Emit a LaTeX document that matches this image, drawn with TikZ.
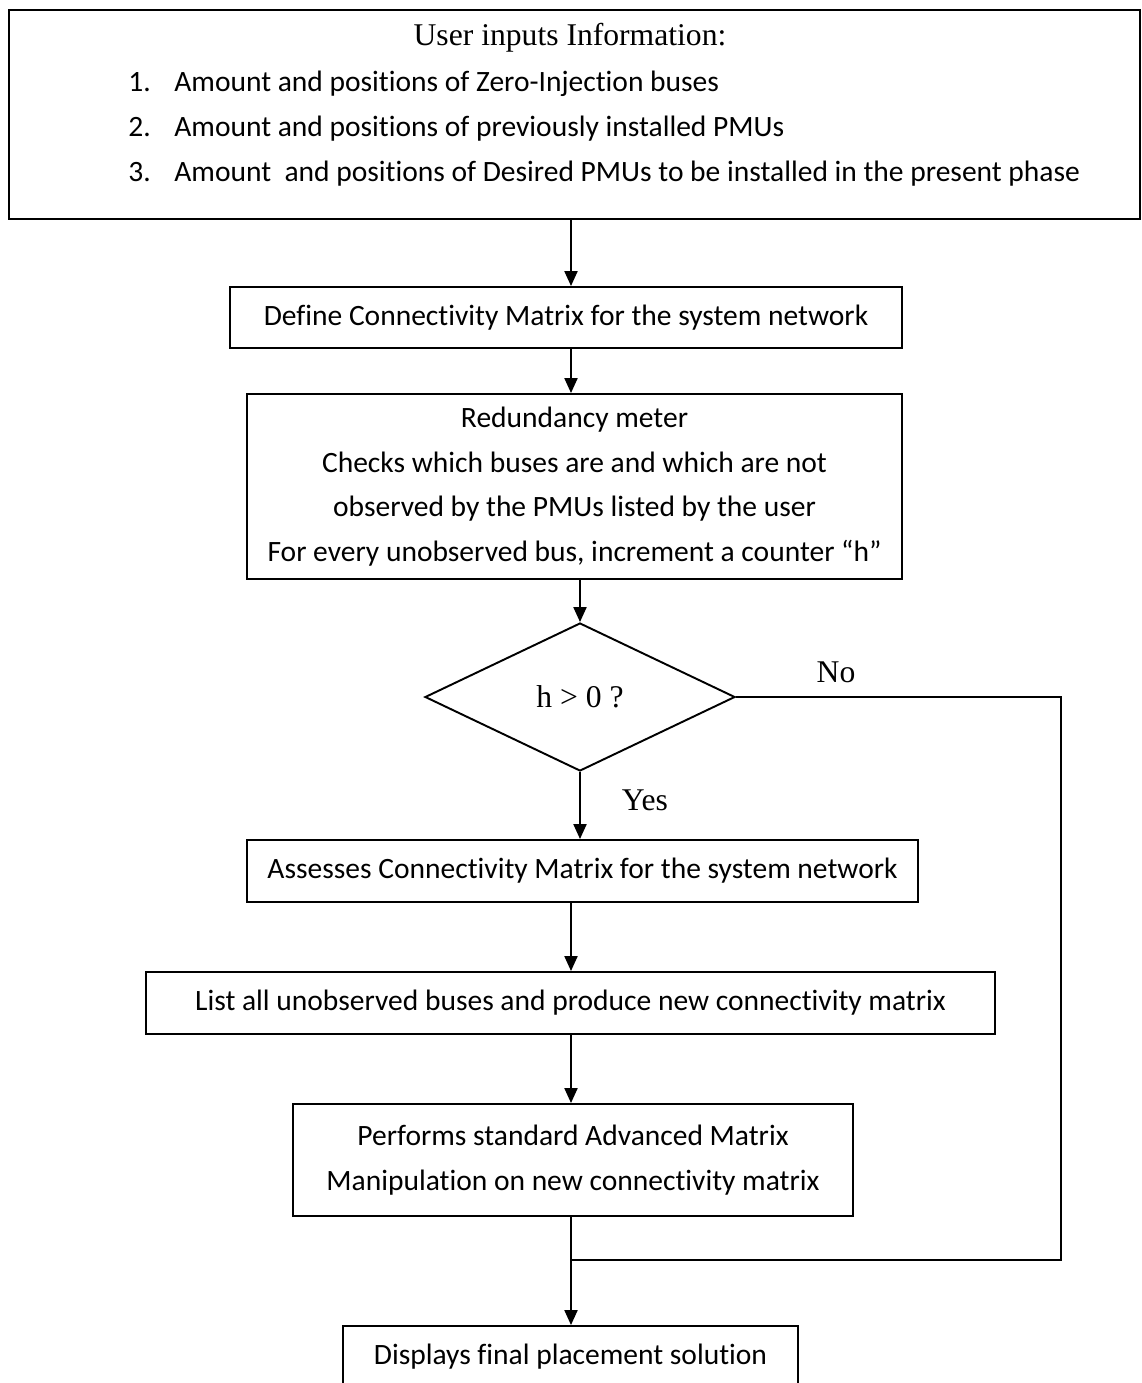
\documentclass[tikz,border=0pt]{standalone}
\usepackage{fontspec}
\setmainfont{Carlito}[Ligatures=CommonOff]
\newfontfamily\camfont{Liberation Serif}
\usetikzlibrary{shapes.geometric,arrows.meta}
\newlength{\unitpx}
\setlength{\unitpx}{0.02cm}

\begin{document}
\begin{tikzpicture}[x=0.02cm, y=-0.02cm,
	box/.style={draw, line width=1.1pt, inner sep=0pt, align=center,
		font=\fontsize{16.8pt}{25.3pt}\selectfont},
	decision/.style={draw, diamond, line width=1.1pt, inner sep=0pt,
		font=\camfont\fontsize{18pt}{20pt}\selectfont},
	lbl/.style={font=\camfont\fontsize{18pt}{20pt}\selectfont},
	itemtext/.style={anchor=base west, inner sep=0pt, font=\fontsize{16.8pt}{20pt}\selectfont},
	flow/.style={line width=1.1pt, -{Triangle[length=8.5pt, width=7.4pt]}},
	loopline/.style={line width=1.1pt}]

		\clip (0,0) rectangle (1142,1383);

		\coordinate (spine) at (571,0);
		\coordinate (loopx) at (1061,0);
		\coordinate (join) at (571,1260);

		\node[box, minimum width=1131\unitpx, minimum height=209\unitpx] (inputs) at (574.5,114.5) {};
		\node[lbl] (title) at (570,38) {User inputs Information:};
		\foreach \txt [count=\i] in {Amount and positions of Zero-Injection buses,
				Amount and positions of previously installed PMUs,
				Amount\ \ and positions of Desired PMUs to be installed in the present phase} {
			\node[itemtext] (num\i) at (128,46+45*\i) {\i.};
			\node[itemtext] (item\i) at (174,46+45*\i) {\txt};
		}

		\node[box, minimum width=672\unitpx, minimum height=61\unitpx] (define) at (566,317.5)
			{Define Connectivity Matrix for the system network};
		\node[box, minimum width=655\unitpx, minimum height=185\unitpx] (redund) at (574.5,486.5)
			{Redundancy meter\\Checks which buses are and which are not\\observed by the PMUs listed by the user\\For every unobserved bus, increment a counter “h”};
		\node[decision, minimum width=310\unitpx, minimum height=148\unitpx] (check) at (580,697) {h > 0 ?};
		\node[box, minimum width=671\unitpx, minimum height=62\unitpx] (assess) at (582.5,871)
			{Assesses Connectivity Matrix for the system network};
		\node[box, minimum width=849\unitpx, minimum height=62\unitpx] (listbus) at (570.5,1003)
			{List all unobserved buses and produce new connectivity matrix};
		\node[box, minimum width=560\unitpx, minimum height=112\unitpx] (perform) at (573,1160)
			{Performs standard Advanced Matrix\\Manipulation on new connectivity matrix};
		\node[box, minimum width=455\unitpx, minimum height=62\unitpx] (display) at (570.5,1357)
			{Displays final placement solution};

		\node[lbl] (no) at (836,672) {No};
		\node[lbl] (yes) at (645,800) {Yes};

		\draw[flow] (inputs.south -| spine) -- (define.north -| spine);
		\draw[flow] (define.south -| spine) -- (redund.north -| spine);
		\draw[flow] (redund.south -| check) -- (check.north);
		\draw[flow] (check.south) -- (assess.north -| check);
		\draw[flow] (assess.south -| spine) -- (listbus.north -| spine);
		\draw[flow] (listbus.south -| spine) -- (perform.north -| spine);
		\draw[flow] (perform.south -| spine) -- (display.north -| spine);
		\draw[loopline] (check.east) -- (check.east -| loopx) -- (join -| loopx) -- (join);

	\end{tikzpicture}
\end{document}
